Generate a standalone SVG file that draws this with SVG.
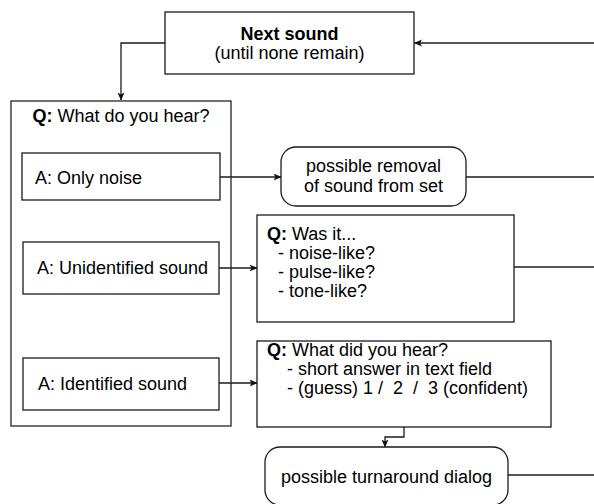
<svg xmlns="http://www.w3.org/2000/svg" width="594" height="504" viewBox="0 0 594 504">
<defs>
<marker id="arr" viewBox="0 0 8 8" refX="7.5" refY="4" markerWidth="8" markerHeight="8" markerUnits="userSpaceOnUse" orient="auto">
<path d="M0,0.5 L8,4 L0,7.5 L2,4 z" fill="#111"/>
</marker>
<style>
.box{fill:#fff;stroke:#1a1a1a;stroke-width:1.3}
.big{fill:none;stroke:#2a2218;stroke-width:1.3}
.ln{fill:none;stroke:#1a1a1a;stroke-width:1.3}
.t{font-family:"Liberation Sans",Arial,sans-serif;font-size:18px;fill:#000;white-space:pre}
.c{text-anchor:middle}
.b{font-weight:bold}
</style>
</defs>
<rect width="594" height="504" fill="#fff"/>
<g id="connectors">
<path class="ln" d="M165,43 H121 V100" marker-end="url(#arr)"/>
<path class="ln" d="M594,43 H414.5" marker-end="url(#arr)"/>
<path class="ln" d="M220,177 H281" marker-end="url(#arr)"/>
<path class="ln" d="M466,177 H594"/>
<path class="ln" d="M219,268 H257" marker-end="url(#arr)"/>
<path class="ln" d="M514,267 H594"/>
<path class="ln" d="M219,383 H257" marker-end="url(#arr)"/>
<path class="ln" d="M404,427 V437 H385 V447" marker-end="url(#arr)"/>
<path class="ln" d="M508,475 H594"/>
</g>
<g id="next-sound">
<rect class="box" x="165" y="12" width="249" height="62"/>
<text class="t c b" x="289.5" y="40">Next sound</text>
<text class="t c" x="289.5" y="59">(until none remain)</text>
</g>
<g id="what-do-you-hear">
<rect class="big" x="11" y="101" width="220" height="325"/>
<text class="t c" x="121" y="122"><tspan class="b">Q:</tspan> What do you hear?</text>
</g>
<g id="only-noise">
<rect class="box" x="22" y="153" width="198" height="47"/>
<text class="t" x="35" y="184">A: Only noise</text>
</g>
<g id="unidentified">
<rect class="box" x="23" y="242" width="196" height="52"/>
<text class="t" x="37" y="274">A: Unidentified sound</text>
</g>
<g id="identified">
<rect class="box" x="23" y="358" width="196" height="52"/>
<text class="t" x="38" y="390">A: Identified sound</text>
</g>
<g id="removal">
<rect class="box" x="281" y="147" width="185" height="59" rx="15" ry="15"/>
<text class="t c" x="373.5" y="172">possible removal</text>
<text class="t c" x="373.5" y="192">of sound from set</text>
</g>
<g id="was-it">
<rect class="box" x="257" y="215" width="257" height="107"/>
<text class="t" x="267" y="240"><tspan class="b">Q:</tspan> Was it...</text>
<text class="t" x="278" y="259">- noise-like?</text>
<text class="t" x="278" y="278">- pulse-like?</text>
<text class="t" x="278" y="297">- tone-like?</text>
</g>
<g id="what-did-you-hear">
<rect class="box" x="257" y="341" width="294" height="86"/>
<text class="t" x="267" y="356"><tspan class="b">Q:</tspan> What did you hear?</text>
<text class="t" x="287" y="375">- short answer in text field</text>
<text class="t" x="287" y="394">- (guess) 1 /  2  /  3 (confident)</text>
</g>
<g id="turnaround">
<rect class="box" x="265" y="447" width="243" height="58" rx="15" ry="15"/>
<text class="t c" x="386.5" y="483">possible turnaround dialog</text>
</g>
</svg>
